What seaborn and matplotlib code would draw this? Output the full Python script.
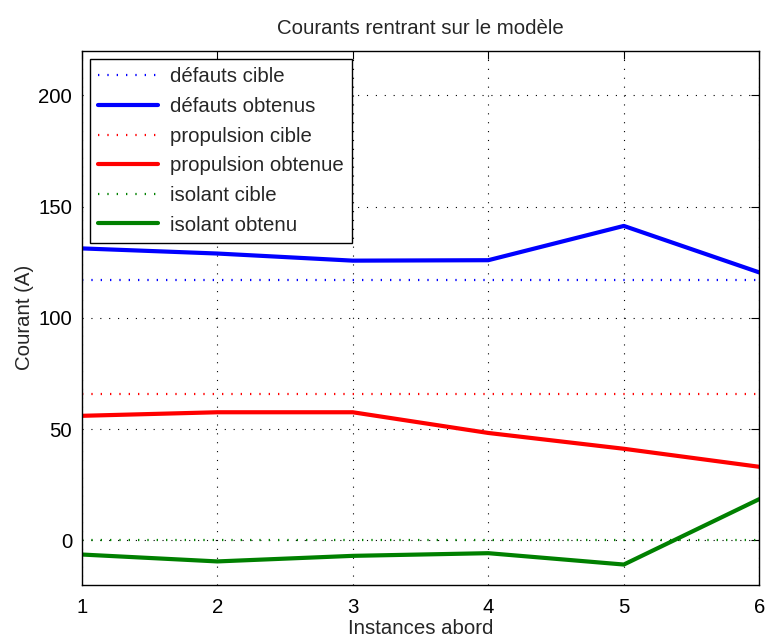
import numpy as np
import pandas as pd
import matplotlib
matplotlib.use("Agg")
import matplotlib.pyplot as plt
import seaborn as sns

# Data
instances = [1, 2, 3, 4, 5, 6]
defauts_cible = [117, 117, 117, 117, 117, 117]
defauts_obtenus = [131.2, 128.9, 125.7, 125.9, 141.3, 120.4]
propulsion_cible = [66, 66, 66, 66, 66, 66]
propulsion_obtenue = [56.0, 57.6, 57.6, 48.3, 41.2, 33.1]
isolant_cible = [0, 0, 0, 0, 0, 0]
isolant_obtenu = [-6.3, -9.4, -6.9, -5.7, -10.8, 18.6]

series = [
    ("défauts cible", defauts_cible, "#0000ff", "dotted"),
    ("défauts obtenus", defauts_obtenus, "#0000ff", "solid"),
    ("propulsion cible", propulsion_cible, "#ff0000", "dotted"),
    ("propulsion obtenue", propulsion_obtenue, "#ff0000", "solid"),
    ("isolant cible", isolant_cible, "#008000", "dotted"),
    ("isolant obtenu", isolant_obtenu, "#008000", "solid"),
]

sns.set_style("white")
plt.rcParams['font.family'] = ['Liberation Sans', 'DejaVu Sans']
fs = 14.7

fig = plt.figure(figsize=(7.66, 6.37), dpi=100)
ax = fig.add_axes([0.1067, 0.0816, 0.8846, 0.8388])

for name, values, color, style in series:
    df = pd.DataFrame({"x": instances, "y": values})
    if style == "dotted":
        sns.lineplot(data=df, x="x", y="y", ax=ax, color=color, lw=1.6,
                     label=name)
        ax.lines[-1].set_linestyle((0, (0.6, 3.6)))
    else:
        sns.lineplot(data=df, x="x", y="y", ax=ax, color=color, lw=3,
                     label=name)

ax.set_xlim(1, 6)
ax.set_ylim(-20, 220)
ax.set_xticks(instances)
ax.set_yticks([0, 50, 100, 150, 200])
ax.grid(True, color="black", linestyle=(0, (1, 7)), linewidth=0.8)
ax.tick_params(direction="in", top=True, right=True, labelsize=fs, length=6,
               width=0.8, colors="black")
ax.tick_params(axis="x", pad=9)
ax.tick_params(axis="y", pad=7)
for s in ax.spines.values():
    s.set_color("black")
    s.set_linewidth(1.0)

ax.set_title("Courants rentrant sur le modèle", fontsize=fs, pad=12)
ax.set_xlabel("Instances abord", fontsize=fs, labelpad=2)
ax.set_ylabel("Courant (A)", fontsize=fs, labelpad=3)

leg = ax.legend(loc="upper left", fontsize=fs, handlelength=2.9,
                handletextpad=0.6, labelspacing=0.52, borderaxespad=0.4,
                fancybox=False, framealpha=1, edgecolor="black", borderpad=0.42)
leg.get_frame().set_linewidth(1.0)

fig.savefig("out.png", dpi=100)
